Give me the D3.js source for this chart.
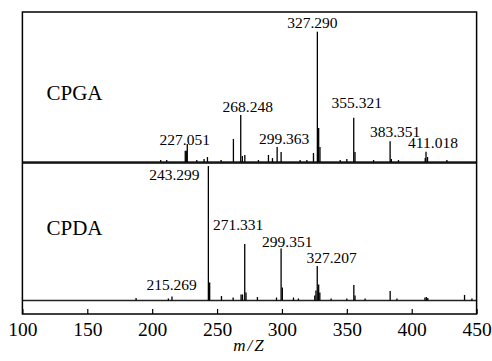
<!DOCTYPE html>
<html>
<head>
<meta charset="utf-8">
<script src="https://cdn.jsdelivr.net/npm/d3@7"></script>
<style>
  html, body { margin: 0; padding: 0; background: #fff; }
  svg { display: block; }
</style>
</head>
<body>
<div id="chart"></div>
<script>
// m/z and relative intensity (%), upper trace = CPGA, lower trace = CPDA
const cpgaMz = [206.6, 211.2, 225.5, 226.3, 227.051, 234.4, 240.0, 242.6, 253.1, 262.6, 268.248, 269.5, 271.4,
  281.9, 289.6, 292.7, 296.3, 299.363, 314.0, 319.2, 324.3, 327.290, 328.3, 329.3, 344.9, 350.0,
  355.321, 356.3, 370.6, 383.351, 384.3, 389.8, 410.4, 411.018, 412.2, 427.1];
const cpgaInt = [1.5, 1.5, 8.7, 8.7, 13.8, 1.5, 2.3, 3.8, 1.5, 17.7, 36, 4.6, 5.4,
  1.5, 5.4, 3, 11.5, 7.7, 1.5, 1.5, 6.9, 100, 26, 11.5, 1.5, 2.3,
  34, 7.7, 1.5, 16, 2.3, 1.5, 3, 7.9, 3.8, 1.5];

const cpdaMz = [187.6, 212.5, 215.269, 243.299, 244.3, 253.4, 262.4, 268.5, 269.6, 271.331, 272.3, 281.1,
  295.8, 299.351, 300.3, 308.9, 312.7, 325.3, 326.2, 327.207, 328.3, 329.2, 337.9, 350.0,
  355.4, 356.3, 364.1, 383.4, 388.6, 410.2, 411.3, 412.4, 440.7, 446.4];
const cpdaInt = [1.9, 1.5, 3, 100, 13.4, 3.3, 2.2, 4.5, 4.5, 42, 6, 2.6,
  2.2, 38.7, 9.7, 2.2, 1.5, 3.7, 7.4, 25.7, 11.9, 6, 1.5, 1.5,
  11.5, 3.7, 1.5, 7.1, 1.5, 2.2, 2.6, 1.9, 4.1, 1.5];

const cpgaLabels = ["227.051", "268.248", "299.363", "327.290", "355.321", "383.351", "411.018"];
const cpdaLabels = ["215.269", "243.299", "271.331", "299.351", "327.207"];
const seriesNames = ["CPGA", "CPDA"];
const xTicks = [100, 150, 200, 250, 300, 350, 400, 450];
const xTitle = "m/Z";

const width = 492, height = 361;
const m = { left: 22.4, right: 476.6, top: 12, mid: 163, bottom: 314 };

// label placement: [dx from peak, baseline offset above peak top]
const labelPlace = {
  "227.051": [-2.5, -1], "268.248": [7, 3.3], "299.363": [3, 8.4], "327.290": [-5, 3.4],
  "355.321": [3, 9.4], "383.351": [5, 4.3], "411.018": [7, 3.4],
  "215.269": [-0.3, 6.7], "243.299": [-34, -14], "271.331": [-6.6, 14], "299.351": [6.2, 1],
  "327.207": [14.4, 2.7]
};

const x = d3.scaleLinear().domain([100, 450]).range([m.left, m.right]);
const yTop = d3.scaleLinear().domain([0, 100]).range([162, 31.7]);
const yBot = d3.scaleLinear().domain([0, 100]).range([300.5, 166]);

const svg = d3.select("#chart").append("svg")
  .attr("width", width)
  .attr("height", height)
  .attr("viewBox", `0 0 ${width} ${height}`);

const serif = "'Liberation Serif', 'Times New Roman', serif";

function drawTrace(mz, inten, y, labels) {
  const g = svg.append("g");
  g.append("line")
    .attr("x1", m.left).attr("x2", m.right)
    .attr("y1", y(0)).attr("y2", y(0))
    .attr("stroke", "#222").attr("stroke-width", 1.3);

  const peaks = mz.map((v, i) => ({ mz: v, v: inten[i] }));
  g.selectAll("line.peak")
    .data(peaks)
    .join("line")
    .attr("class", "peak")
    .attr("x1", d => x(d.mz)).attr("x2", d => x(d.mz))
    .attr("y1", y(0)).attr("y2", d => y(d.v))
    .attr("stroke", "#000").attr("stroke-width", 1.3);

  g.selectAll("text.lab")
    .data(labels)
    .join("text")
    .attr("class", "lab")
    .attr("x", t => x(+t) + labelPlace[t][0])
    .attr("y", t => y(inten[mz.indexOf(+t)]) - labelPlace[t][1])
    .attr("text-anchor", "middle")
    .style("font-family", serif)
    .style("font-size", "15.5px")
    .text(t => t);
}

drawTrace(cpgaMz, cpgaInt, yTop, cpgaLabels);
drawTrace(cpdaMz, cpdaInt, yBot, cpdaLabels);

// frame and divider
svg.append("rect")
  .attr("x", m.left).attr("y", m.top)
  .attr("width", m.right - m.left).attr("height", m.bottom - m.top)
  .attr("fill", "none").attr("stroke", "#000").attr("stroke-width", 1.5);
svg.append("line")
  .attr("x1", m.left).attr("x2", m.right)
  .attr("y1", m.mid).attr("y2", m.mid)
  .attr("stroke", "#000").attr("stroke-width", 1.5);

// series names
svg.selectAll("text.name")
  .data(seriesNames)
  .join("text")
  .attr("class", "name")
  .attr("x", 46.5)
  .attr("y", (d, i) => i === 0 ? 100 : 235)
  .style("font-family", serif)
  .style("font-size", "21px")
  .text(d => d);

// x axis, ticks pointing inwards
const axis = svg.append("g")
  .attr("transform", `translate(0,${m.bottom})`)
  .call(d3.axisBottom(x).tickValues(xTicks).tickSizeInner(-5).tickSizeOuter(0).tickPadding(8.5));
axis.select(".domain").remove();
axis.selectAll(".tick line").attr("stroke", "#000").attr("stroke-width", 1.2);
axis.selectAll(".tick text")
  .style("font-family", serif)
  .style("font-size", "19.5px")
  .attr("fill", "#000");

svg.append("text")
  .attr("x", (m.left + m.right) / 2)
  .attr("y", 350.5)
  .attr("text-anchor", "middle")
  .style("font-family", serif)
  .style("font-style", "italic")
  .style("font-size", "17px")
  .style("letter-spacing", "2px")
  .text(xTitle);
</script>
</body>
</html>
